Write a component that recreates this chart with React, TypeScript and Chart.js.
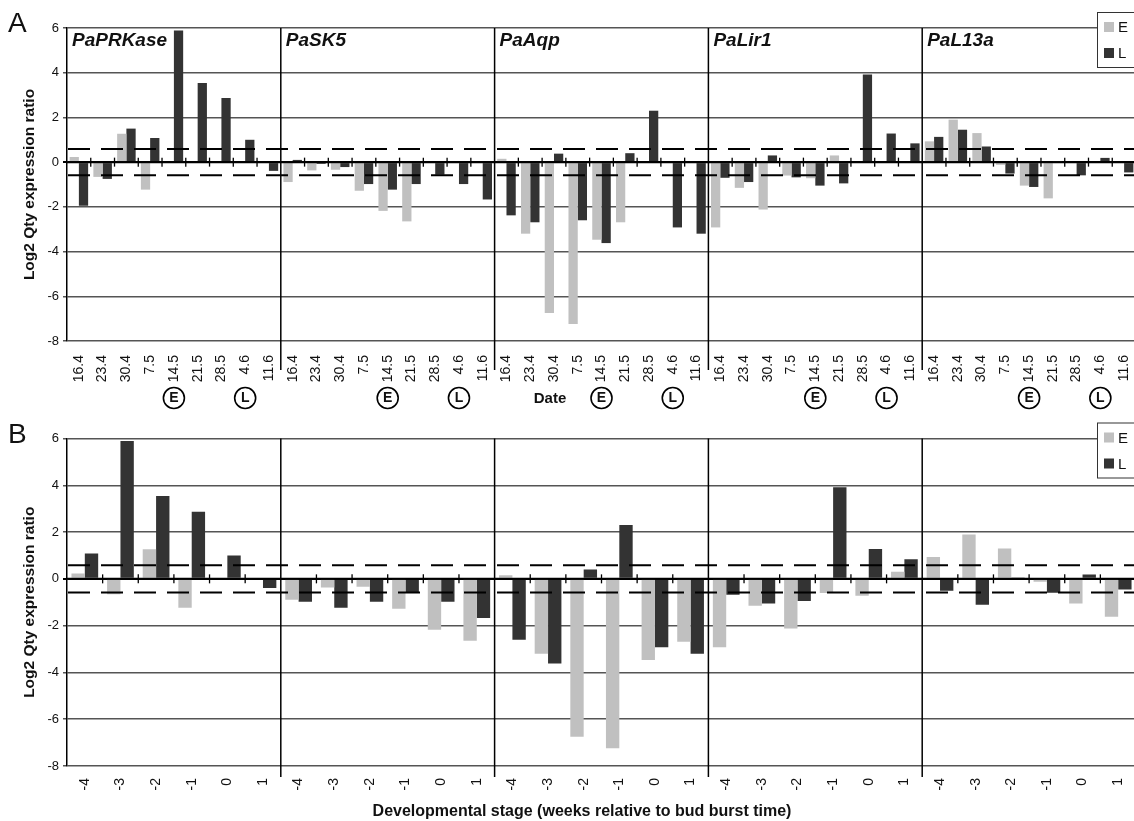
import React, { useEffect, useRef } from "react";
import { Chart, registerables } from "chart.js";
Chart.register(...registerables);

const FONT = "Arial, 'Liberation Sans', Helvetica, sans-serif";

const genes = ["PaPRKase", "PaSK5", "PaAqp", "PaLir1", "PaL13a"];
const dates = ["16.4", "23.4", "30.4", "7.5", "14.5", "21.5", "28.5", "4.6", "11.6"];
const stages = ["-4", "-3", "-2", "-1", "0", "1"];
const seriesNames = ["E", "L"];
const seriesColors = ["#c0c0c0", "#333333"];
const yTitle = "Log2 Qty expression ratio";
const xTitleB = "Developmental stage (weeks relative to bud burst time)";
const xTitleA = "Date";

// Panel A: by sampling date (9 dates per gene, genes in order)
const dateE = [
  0.23, -0.66, 1.27, -1.23, 0, 0, 0, 0, 0,
  -0.89, -0.37, -0.34, -1.28, -2.18, -2.65, 0, 0, 0,
  0.15, -3.2, -6.75, -7.24, -3.47, -2.69, 0, 0, 0,
  -2.92, -1.15, -2.12, -0.6, -0.72, 0.3, 0, 0, 0,
  0.93, 1.9, 1.3, -0.12, -1.05, -1.62, 0, 0, 0,
];
const dateL = [
  -1.95, -0.75, 1.5, 1.08, 5.89, 3.54, 2.87, 1.0, -0.39,
  0.1, -0.08, -0.22, -0.98, -1.23, -0.98, -0.56, -0.98, -1.67,
  -2.38, -2.69, 0.38, -2.6, -3.62, 0.4, 2.3, -2.92, -3.2,
  -0.7, -0.89, 0.3, -0.68, -1.05, -0.95, 3.92, 1.28, 0.84,
  1.13, 1.45, 0.7, -0.51, -1.11, 0.02, -0.59, 0.19, -0.46,
];

// Panel B: by developmental stage (6 stages per gene)
const stageE = [
  0.23, -0.66, 1.27, -1.23, 0, 0,
  -0.89, -0.37, -0.34, -1.28, -2.18, -2.65,
  0.15, -3.2, -6.75, -7.24, -3.47, -2.69,
  -2.92, -1.15, -2.12, -0.6, -0.72, 0.3,
  0.93, 1.9, 1.3, -0.12, -1.05, -1.62,
];
const stageL = [
  1.08, 5.89, 3.54, 2.87, 1.0, -0.39,
  -0.98, -1.23, -0.98, -0.56, -0.98, -1.67,
  -2.6, -3.62, 0.4, 2.3, -2.92, -3.2,
  -0.68, -1.05, -0.95, 3.92, 1.28, 0.84,
  -0.51, -1.11, 0.02, -0.59, 0.19, -0.46,
];

const yMin = -8;
const yMax = 6;
const yStep = 2;
const threshold = 0.585;
const circled = [
  { letter: "E", date: "14.5" },
  { letter: "L", date: "4.6" },
];

type PanelProps = {
  letter: string;
  labels: string[];
  eVals: number[];
  lVals: number[];
  top: number;
  height: number;
  padTop: number;
  xAxisHeight: number;
  catPct: number;
  xPad: number;
  dividerExt: number;
  kind: "A" | "B";
};

function line(ctx: CanvasRenderingContext2D, x1: number, y1: number, x2: number, y2: number) {
  ctx.beginPath();
  ctx.moveTo(x1, y1);
  ctx.lineTo(x2, y2);
  ctx.stroke();
}

function makeOverlay(p: PanelProps) {
  return {
    id: "overlay" + p.kind,
    afterDatasetsDraw(chart: any) {
      const { ctx, chartArea: ca } = chart;
      const x = chart.scales.x;
      const y = chart.scales.y;
      const n = chart.data.labels.length;
      const per = n / genes.length;
      const step = x.getPixelForValue(1) - x.getPixelForValue(0);
      const edge = (i: number) => x.getPixelForValue(i) - step / 2;
      const y0 = y.getPixelForValue(0);
      ctx.save();
      ctx.strokeStyle = "#000";
      ctx.fillStyle = "#111";
      // zero axis
      ctx.lineWidth = 2;
      line(ctx, ca.left, y0, ca.right, y0);
      // crossing tick marks
      ctx.lineWidth = 1.3;
      for (let i = 1; i < n; i++) {
        if (i % per === 0) continue;
        const xi = edge(i);
        line(ctx, xi, y0 - 4.5, xi, y0 + 4.5);
      }
      // thresholds
      ctx.setLineDash([22, 11]);
      ctx.lineWidth = 2;
      [threshold, -threshold].forEach((v) => {
        const yy = y.getPixelForValue(v);
        line(ctx, ca.left + 1, yy, ca.right, yy);
      });
      ctx.setLineDash([]);
      // gene dividers
      ctx.lineWidth = 1.5;
      for (let g = 1; g < genes.length; g++) {
        const xg = edge(g * per);
        line(ctx, xg, ca.top, xg, ca.bottom + p.dividerExt);
      }
      // gene names (panel A only)
      ctx.textAlign = "left";
      ctx.textBaseline = "alphabetic";
      if (p.kind === "A") {
        ctx.font = `italic bold 19px ${FONT}`;
        genes.forEach((g, i) => ctx.fillText(g, edge(i * per) + 5, ca.top + 18));
      }
      // legend
      const lx = 1097;
      const ly = ca.top - 16;
      ctx.fillStyle = "#fff";
      ctx.fillRect(lx, ly, 60, 55);
      ctx.strokeStyle = "#333";
      ctx.lineWidth = 1;
      ctx.strokeRect(lx + 0.5, ly + 0.5, 60, 55);
      ctx.font = `15px ${FONT}`;
      ctx.textBaseline = "middle";
      seriesNames.forEach((s, i) => {
        const cy = ly + 15 + i * 26;
        ctx.fillStyle = seriesColors[i];
        ctx.fillRect(lx + 7, cy - 5, 10, 10);
        ctx.fillStyle = "#111";
        ctx.fillText(s, lx + 21, cy + 1);
      });
      // panel letter
      ctx.textBaseline = "alphabetic";
      ctx.font = `28px ${FONT}`;
      ctx.fillStyle = "#111";
      ctx.fillText(p.letter, 8, ca.top + 4);
      // y title
      ctx.save();
      ctx.translate(30, (ca.top + ca.bottom) / 2);
      ctx.rotate(-Math.PI / 2);
      ctx.textAlign = "center";
      ctx.textBaseline = "middle";
      ctx.font = `bold 15.5px ${FONT}`;
      ctx.fillText(yTitle, 0, 0);
      ctx.restore();
      if (p.kind === "A") {
        ctx.strokeStyle = "#000";
        ctx.lineWidth = 1.6;
        ctx.textAlign = "center";
        ctx.textBaseline = "middle";
        ctx.font = `bold 14px ${FONT}`;
        for (let g = 0; g < genes.length; g++) {
          circled.forEach((c) => {
            const cx = x.getPixelForValue(g * per + dates.indexOf(c.date));
            ctx.beginPath();
            ctx.arc(cx, 398, 10.5, 0, Math.PI * 2);
            ctx.stroke();
            ctx.fillText(c.letter, cx, 398.5);
          });
        }
        ctx.font = `bold 15px ${FONT}`;
        ctx.fillText(xTitleA, x.getPixelForValue(2 * per + 2) - 4, 399);
      } else {
        ctx.textAlign = "center";
        ctx.textBaseline = "middle";
        ctx.font = `bold 16px ${FONT}`;
        ctx.fillText(xTitleB, 582, ca.bottom + 46);
      }
      ctx.restore();
    },
  };
}

function Panel(p: PanelProps) {
  const ref = useRef<HTMLCanvasElement>(null);
  useEffect(() => {
    const chart = new Chart(ref.current as HTMLCanvasElement, {
      type: "bar",
      data: {
        labels: p.labels,
        datasets: [
          { label: seriesNames[0], data: p.eVals, backgroundColor: seriesColors[0], borderWidth: 0 },
          { label: seriesNames[1], data: p.lVals, backgroundColor: seriesColors[1], borderWidth: 0 },
        ],
      },
      options: {
        animation: false,
        responsive: false,
        maintainAspectRatio: false,
        layout: { padding: { top: p.padTop, left: 0, right: 0, bottom: 0 } },
        plugins: { legend: { display: false }, tooltip: { enabled: false } },
        datasets: { bar: { categoryPercentage: p.catPct, barPercentage: 1.0 } },
        scales: {
          x: {
            grid: { display: false, drawTicks: false },
            border: { display: false },
            ticks: {
              autoSkip: false,
              maxRotation: 90,
              minRotation: 90,
              padding: p.xPad,
              color: "#111",
              font: { family: FONT, size: 14 },
            },
            afterFit: (s: any) => {
              s.height = p.xAxisHeight;
              s.paddingLeft = 0;
              s.paddingRight = 0;
            },
          },
          y: {
            min: yMin,
            max: yMax,
            ticks: { stepSize: yStep, padding: 4, color: "#111", font: { family: FONT, size: 13 } },
            grid: {
              color: (c: any) => (c.tick && c.tick.value === 0 ? "#000" : "#555"),
              lineWidth: (c: any) => (c.tick && c.tick.value === 0 ? 2 : 1.5),
              tickLength: 4,
            },
            border: { display: true, color: "#000", width: 1.5 },
            afterFit: (s: any) => {
              s.width = 67;
              s.paddingTop = 0;
              s.paddingBottom = 0;
            },
          },
        },
      } as any,
      plugins: [makeOverlay(p)],
    });
    return () => chart.destroy();
  }, []);
  return (
    <canvas
      ref={ref}
      width={1136}
      height={p.height}
      style={{ position: "absolute", left: 0, top: p.top, width: 1136, height: p.height }}
    />
  );
}

export default function App() {
  const labelsA = genes.flatMap(() => dates);
  const labelsB = genes.flatMap(() => stages);
  return (
    <div
      style={{
        position: "absolute",
        left: 0,
        top: 0,
        width: 1134,
        height: 821,
        overflow: "hidden",
        background: "#fff",
      }}
    >
      <Panel
        kind="A"
        letter="A"
        labels={labelsA}
        eVals={dateE}
        lVals={dateL}
        top={0}
        height={410}
        padTop={28}
        xAxisHeight={69}
        catPct={0.78}
        xPad={14}
        dividerExt={29}
      />
      <Panel
        kind="B"
        letter="B"
        labels={labelsB}
        eVals={stageE}
        lVals={stageL}
        top={410}
        height={411}
        padTop={28.5}
        xAxisHeight={55}
        catPct={0.75}
        xPad={12}
        dividerExt={11}
      />
    </div>
  );
}
